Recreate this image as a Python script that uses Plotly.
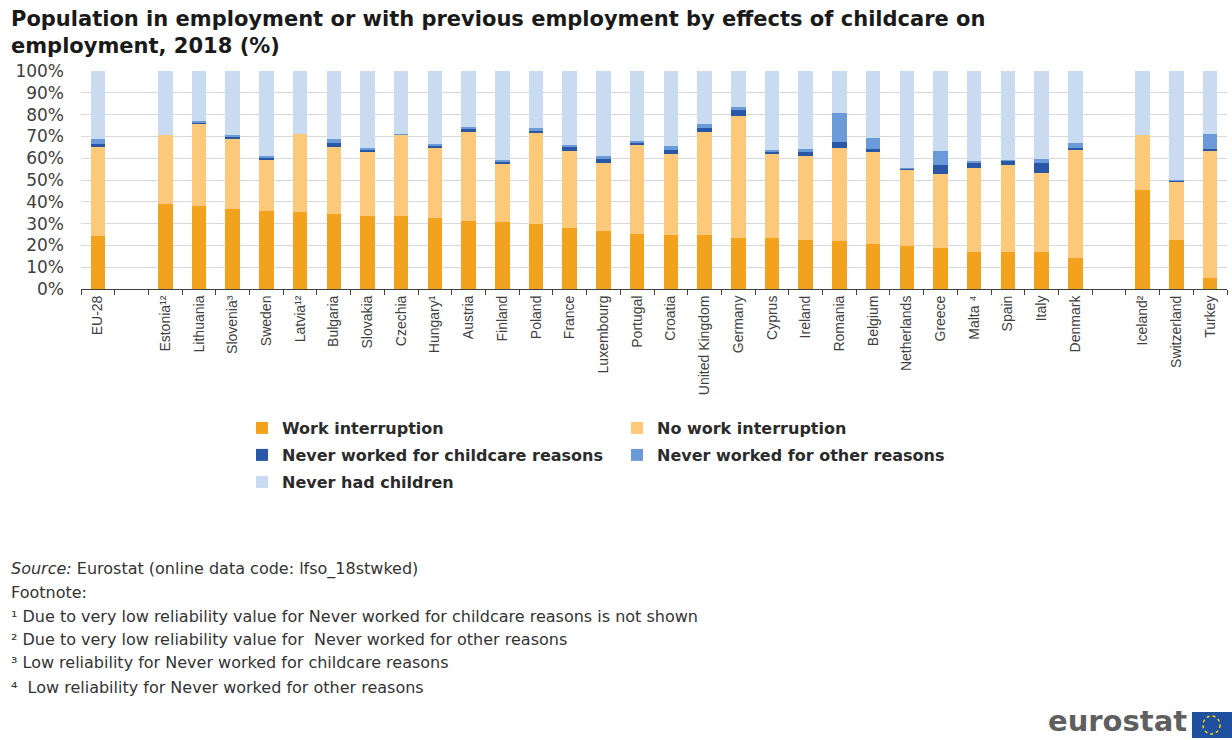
import plotly.graph_objects as go

# ---------------- data ----------------
countries = ["EU-28", "Estonia¹²", "Lithuania", "Slovenia³", "Sweden", "Latvia¹²", "Bulgaria",
             "Slovakia", "Czechia", "Hungary¹", "Austria", "Finland", "Poland", "France",
             "Luxembourg", "Portugal", "Croatia", "United Kingdom", "Germany", "Cyprus",
             "Ireland", "Romania", "Belgium", "Netherlands", "Greece", "Malta ⁴", "Spain",
             "Italy", "Denmark", "Iceland²", "Switzerland", "Turkey"]

work_interruption = [24.4, 39.1, 38.3, 36.5, 35.6, 35.3, 34.5, 33.6, 33.6, 32.5, 31.0, 30.7,
                     29.9, 27.9, 26.7, 25.3, 24.8, 24.7, 23.5, 23.3, 22.6, 22.1, 20.8, 19.8,
                     18.8, 17.0, 16.9, 16.8, 14.0, 45.5, 22.3, 5.0]
no_work_interruption = [40.6, 31.6, 37.4, 32.7, 23.9, 35.8, 30.8, 29.5, 37.1, 32.1, 40.8, 26.6,
                        41.6, 35.6, 31.3, 41.1, 37.0, 47.1, 55.9, 39.0, 38.6, 42.5, 41.9, 34.9,
                        34.0, 38.4, 40.0, 36.3, 50.1, 25.2, 27.0, 58.1]
never_worked_childcare = [1.5, None, 0.7, 0.8, 0.7, None, 1.8, 0.8, 0.2, 1.0, 1.5, 1.0,
                          1.3, 1.5, 2.0, 0.8, 2.0, 2.2, 2.5, 0.9, 1.8, 3.0, 1.4, 0.5,
                          4.1, 2.8, 2.0, 4.6, 0.8, None, 0.4, 1.0]
never_worked_other = [2.5, None, 0.6, 0.8, 1.0, None, 1.6, 0.7, 0.2, 0.8, 1.2, 0.9,
                      0.9, 1.1, 0.8, 0.6, 2.0, 1.6, 1.8, 0.6, 1.1, 13.3, 5.1, 0.5,
                      6.4, 0.6, 0.5, 2.0, 2.3, None, 0.4, 7.0]
never_had_children = [31.0, 29.3, 23.0, 29.2, 38.8, 28.9, 31.3, 35.4, 28.9, 33.6, 25.5, 40.8,
                      26.3, 33.9, 39.2, 32.2, 34.2, 24.4, 16.3, 36.2, 35.9, 19.1, 30.8, 44.3,
                      36.7, 41.2, 40.6, 40.3, 32.8, 29.3, 49.9, 28.9]

# axis order: EU aggregate, gap, member states, gap, other countries
axis_order = countries[:1] + [" "] + countries[1:29] + ["  "] + countries[29:]

series_names = ["Work interruption", "No work interruption", "Never worked for childcare reasons",
                "Never worked for other reasons", "Never had children"]
series_values = [work_interruption, no_work_interruption, never_worked_childcare,
                 never_worked_other, never_had_children]
series_colors = ["#F3A21E", "#FCC97A", "#2A56A6", "#6A9AD8", "#C9DBF0"]
series_legend = ["legend", "legend", "legend2", "legend2", "legend3"]

# ---------------- layout helpers ----------------
W, H = 1232, 740
PL, PR, PT, PB = 81, 1227, 71, 289          # plot area in pixels
pw, ph = PR - PL, PB - PT


def px_x(px):
    return (px - PL) / pw


def px_y(py):
    return (PB - py) / ph


TXT = "#404040"
fig = go.Figure()
for name, vals, col, lg in zip(series_names, series_values, series_colors, series_legend):
    fig.add_trace(go.Bar(x=countries, y=vals, name=name, marker_color=col,
                         marker_line_width=0, legend=lg))

legend_common = dict(orientation="h", xanchor="left", yanchor="middle", entrywidth=330,
                     entrywidthmode="pixels", bgcolor="rgba(0,0,0,0)", traceorder="normal",
                     font=dict(family="DejaVu Sans", size=16, color="#2b2b2b", weight="bold"))

fig.update_layout(
    width=W, height=H,
    margin=dict(l=PL, r=W - PR, t=PT, b=H - PB, autoexpand=False),
    paper_bgcolor="white", plot_bgcolor="white",
    barmode="stack", bargap=0.57,
    legend=dict(x=px_x(242), y=px_y(428), **legend_common),
    legend2=dict(x=px_x(242), y=px_y(455), **legend_common),
    legend3=dict(x=px_x(242), y=px_y(482), **legend_common),
    xaxis=dict(type="category", categoryorder="array", categoryarray=axis_order,
               range=[-0.5, len(axis_order) - 0.5], tickangle=-90, tickson="boundaries",
               ticks="outside", ticklen=5, tickcolor=TXT, showline=True, linecolor=TXT,
               linewidth=1, showgrid=False, tickfont=dict(family="Liberation Sans", size=14, color=TXT)),
    yaxis=dict(range=[0, 100], dtick=10, ticksuffix="%", showgrid=True, gridcolor="#D9D9D9",
               gridwidth=1, zeroline=False, showline=False, ticks="", ticklabelstandoff=16,
               tickfont=dict(family="DejaVu Sans", size=17, color=TXT)),
)

# ---------------- title ----------------
fig.add_annotation(text="Population in employment or with previous employment by effects of childcare on<br>employment, 2018 (%)",
                   xref="paper", yref="paper", x=px_x(9), y=px_y(5), xanchor="left", yanchor="top",
                   showarrow=False, align="left",
                   font=dict(family="DejaVu Sans", size=21, color="#1a1a1a", weight="bold"))

# ---------------- source and footnotes ----------------
notes = [
    ("<i>Source:</i> Eurostat (online data code: lfso_18stwked)", 569),
    ("Footnote:", 592),
    ("¹ Due to very low reliability value for Never worked for childcare reasons is not shown", 616),
    ("² Due to very low reliability value for  Never worked for other reasons", 639),
    ("³ Low reliability for Never worked for childcare reasons", 663),
    ("⁴  Low reliability for Never worked for other reasons", 687),
]
for txt, py in notes:
    fig.add_annotation(text=txt, xref="paper", yref="paper", x=px_x(9), y=px_y(py),
                       xanchor="left", yanchor="middle", showarrow=False, align="left",
                       font=dict(family="DejaVu Sans", size=16, color="#333333"))

# ---------------- eurostat logo ----------------
fig.add_annotation(text="eurostat", xref="paper", yref="paper", x=px_x(1189), y=px_y(740),
                   xanchor="right", yanchor="bottom", showarrow=False,
                   font=dict(family="DejaVu Sans", size=29, color="#5f5f5f", weight="bold"))
fig.add_shape(type="rect", xref="paper", yref="paper", x0=px_x(1192), x1=px_x(1240),
              y0=px_y(712), y1=px_y(738), fillcolor="#1F4F9F", line_width=0)
fig.add_shape(type="circle", xref="paper", yref="paper", x0=px_x(1203), x1=px_x(1220),
              y0=px_y(716), y1=px_y(734), line=dict(color="#FFD200", width=1.5, dash="dot"))

fig.write_html("out.html")
